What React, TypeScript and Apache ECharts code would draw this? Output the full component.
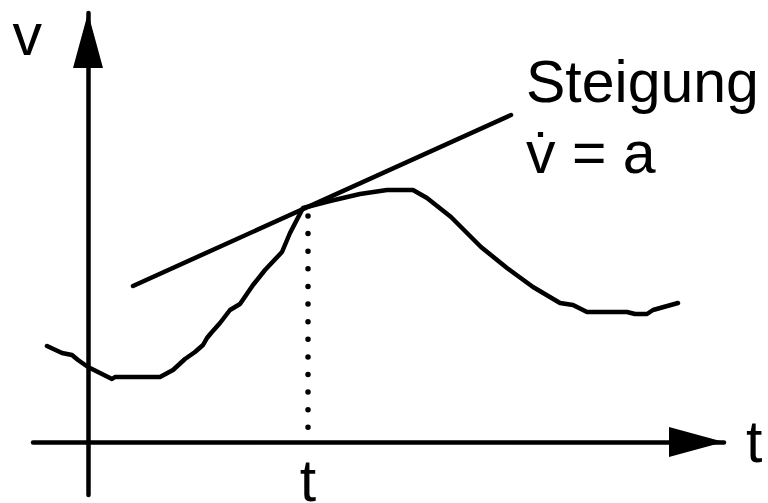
import React, { useEffect, useRef } from "react";
import * as echarts from "echarts";

// Velocity curve v(t) (arbitrary units, origin at axis crossing)
const curveT = [-4.1, -2.6, -1.6, -1.0, 0.0, 1.2, 2.4, 2.7, 7.2, 8.5, 9.7, 10.7, 11.5, 11.9, 12.4, 13.2, 14.2, 15.2, 16.5, 17.7, 19.4, 20.2, 21.5, 24.2, 27.2, 29.9, 32.5, 33.9, 36.3, 39.3, 41.9, 44.5, 47.2, 48.5, 49.9, 53.9, 54.7, 55.9, 56.5, 59.0];
const curveV = [9.6, 8.9, 8.7, 8.2, 7.5, 6.9, 6.3, 6.5, 6.5, 7.2, 8.3, 9.0, 9.7, 10.4, 11.0, 11.9, 13.2, 13.8, 15.7, 17.2, 19.0, 20.9, 23.4, 24.1, 24.8, 25.2, 25.2, 24.4, 22.5, 19.5, 17.4, 15.5, 13.9, 13.7, 13.0, 13.0, 12.8, 12.8, 13.2, 13.9];

// Tangent line at the marked instant
const tangentT = [4.5, 42.3];
const tangentV = [15.6, 32.7];

// Marked instant t and dotted drop line
const markT = 22.0;
const markV = [22.6, 1.4];

// Texts
const xName = "t";
const yName = "v";
const markLabel = "t";
const annotationLines = ["Steigung", "v\u0307 = a"];

const FONT = "'Liberation Sans', Arial, Helvetica, sans-serif";

export default function App() {
  const ref = useRef<HTMLDivElement>(null);
  useEffect(() => {
    if (!ref.current) return;
    const chart = echarts.init(ref.current, null, { renderer: "svg" });
    const lineStyleBase = { color: "#000", width: 4.5, cap: "round", join: "round" };
    chart.setOption({
      animation: false,
      backgroundColor: "#fff",
      grid: { left: 33, right: 44, top: 13, bottom: 8, containLabel: false, outerBoundsMode: "none" },
      xAxis: {
        type: "value",
        min: -5.5,
        max: 63.6,
        name: xName,
        nameLocation: "end",
        nameGap: 22,
        nameTextStyle: { fontSize: 59, fontFamily: FONT, color: "#000", lineHeight: 59 },
        axisLine: {
          onZero: true,
          symbol: ["none", "triangle"],
          symbolSize: [30, 55],
          symbolOffset: [0, -27.5],
          lineStyle: { color: "#000", width: 4.5 },
        },
        axisTick: { show: false },
        splitLine: { show: false },
        axisLabel: { show: false },
      },
      yAxis: {
        type: "value",
        min: -5.3,
        max: 42.9,
        name: yName,
        nameLocation: "end",
        nameGap: -51,
        nameTextStyle: {
          fontSize: 59,
          fontFamily: FONT,
          color: "#000",
          lineHeight: 59,
          align: "right",
          verticalAlign: "bottom",
          padding: [0, 46, 0, 0],
        },
        axisLine: {
          onZero: true,
          symbol: ["none", "triangle"],
          symbolSize: [30, 55],
          symbolOffset: [0, -27.5],
          lineStyle: { color: "#000", width: 4.5 },
        },
        axisTick: { show: false },
        splitLine: { show: false },
        axisLabel: { show: false },
      },
      series: [
        {
          type: "line",
          name: "v(t)",
          data: curveT.map((t, i) => [t, curveV[i]]),
          symbol: "none",
          silent: true,
          lineStyle: lineStyleBase,
        },
        {
          type: "line",
          name: "Tangente",
          data: tangentT.map((t, i) => [t, tangentV[i]]),
          symbol: "none",
          silent: true,
          lineStyle: lineStyleBase,
        },
        {
          type: "line",
          name: "t-Marke",
          data: markV.map((v) => [markT, v]),
          symbol: "none",
          silent: true,
          lineStyle: { color: "#000", width: 5.5, cap: "round", type: [0.01, 17.6] },
        },
      ],
      graphic: [
        {
          id: "annotation",
          type: "text",
          left: 526,
          top: 46,
          style: {
            text: annotationLines.join("\n"),
            font: `59px ${FONT}`,
            lineHeight: 71,
            fill: "#000",
          },
        },
      ],
    });
    // label for the marked instant, placed under the axis at markT
    const p = chart.convertToPixel({ gridIndex: 0 }, [markT, 0]) as number[];
    chart.setOption({
      graphic: [
        {
          id: "markLabel",
          type: "text",
          x: p[0],
          y: p[1] + 9,
          style: {
            text: markLabel,
            font: `59px ${FONT}`,
            lineHeight: 59,
            fill: "#000",
            align: "center",
            verticalAlign: "top",
          },
        },
      ],
    });
    return () => chart.dispose();
  }, []);
  return (
    <div
      ref={ref}
      style={{ position: "absolute", left: 0, top: 0, width: 768, height: 503 }}
    />
  );
}
